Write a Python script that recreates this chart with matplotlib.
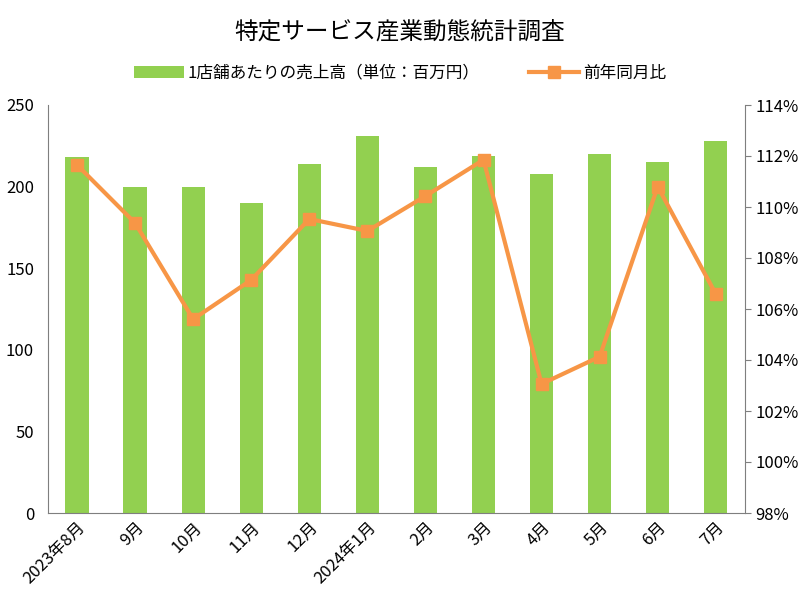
import matplotlib
matplotlib.use("Agg")
import matplotlib.pyplot as plt
from matplotlib.ticker import FuncFormatter

plt.rcParams['font.family'] = ['Noto Sans CJK JP', 'DejaVu Sans']

# データ
months = ['2023年8月', '9月', '10月', '11月', '12月', '2024年1月',
          '2月', '3月', '4月', '5月', '6月', '7月']
sales = [218, 200, 200, 190, 214, 231, 212, 219, 208, 220, 215, 228]
yoy = [111.65, 109.37, 105.6, 107.14, 109.53, 109.06,
       110.43, 111.85, 103.06, 104.13, 110.8, 106.59]

GREEN = '#92D050'
ORANGE = '#F79646'
GRAY = '#7F7F7F'

fig = plt.figure(figsize=(8, 6), dpi=100)
ax = fig.add_axes([0.06, 0.145, 0.871, 0.68])
x = list(range(len(months)))

bars = ax.bar(x, sales, width=0.4, color=GREEN, zorder=2,
              label='1店舗あたりの売上高（単位：百万円）')
ax.set_xlim(-0.5, len(months) - 0.5)
ax.set_ylim(0, 250)
ax.set_yticks([0, 50, 100, 150, 200, 250])
ax.tick_params(axis='y', length=0, labelsize=12, pad=10)
ax.tick_params(axis='x', length=0, labelsize=12, pad=4)
ax.set_xticks(x)
ax.set_xticklabels(months, rotation=45, ha='right', rotation_mode='anchor')
for s in ['top', 'right']:
    ax.spines[s].set_visible(False)
ax.spines['left'].set_color(GRAY)
ax.spines['bottom'].set_color(GRAY)

ax2 = ax.twinx()
line, = ax2.plot(x, yoy, color=ORANGE, linewidth=3, marker='s',
                 markersize=9, zorder=3, label='前年同月比')
ax2.set_ylim(98, 114)
ax2.set_yticks(range(98, 115, 2))
ax2.yaxis.set_major_formatter(FuncFormatter(lambda v, p: '%d%%' % v))
ax2.tick_params(axis='y', length=4, color=GRAY, labelsize=12)
for s in ['top', 'left', 'bottom']:
    ax2.spines[s].set_visible(False)
ax2.spines['right'].set_color(GRAY)

fig.suptitle('特定サービス産業動態統計調査', fontsize=17, y=0.965)
fig.legend(handles=[bars, line], loc='center', bbox_to_anchor=(0.5, 0.878),
           ncol=2, frameon=False, fontsize=12, handlelength=3,
           handletextpad=0.2, columnspacing=3)

fig.savefig('out.png', dpi=100)
